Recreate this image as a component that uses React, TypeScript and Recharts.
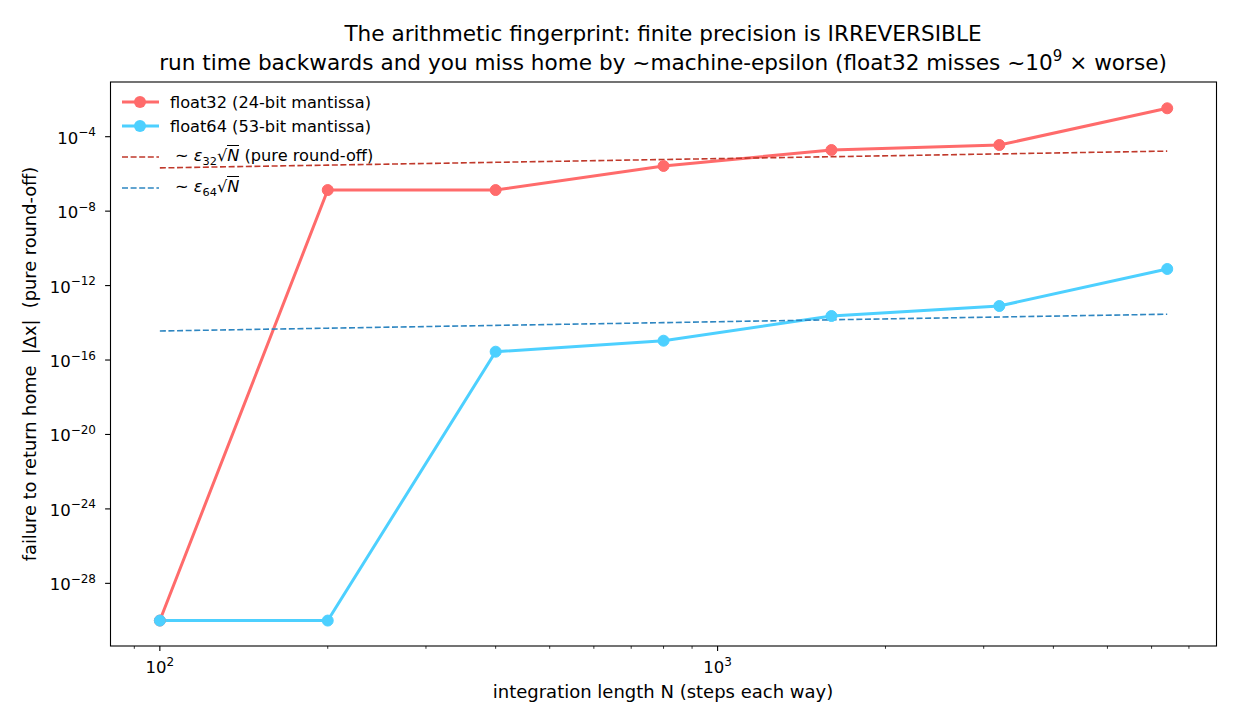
import { LineChart, Line, XAxis, YAxis } from 'recharts';

// integration lengths N (steps each way)
const nSteps = [100, 200, 400, 800, 1600, 3200, 6400];

// measured |dx| after running forwards then backwards (1e-30 = exact return, clipped floor)
const float32Err = [1e-30, 1.36e-7, 1.36e-7, 2.67e-6, 1.93e-5, 3.58e-5, 3.36e-3];
const float64Err = [1e-30, 1e-30, 2.8e-16, 1.09e-15, 2.32e-14, 8.0e-14, 7.8e-12];

// round-off reference lines ~ eps * sqrt(N)
const eps32Ref = [2.1e-6, 2.97e-6, 4.2e-6, 5.94e-6, 8.4e-6, 1.19e-5, 1.68e-5];
const eps64Ref = [3.63e-15, 5.13e-15, 7.25e-15, 1.02e-14, 1.45e-14, 2.05e-14, 2.9e-14];

const xMajorTicks = [100, 1000];
const xMinorTicks = [90, 200, 300, 400, 500, 600, 700, 800, 900, 2000, 3000, 4000, 5000, 6000, 7000];
const yTicks = [1e-28, 1e-24, 1e-20, 1e-16, 1e-12, 1e-8, 1e-4];

const rows = nSteps.map((n, i) => ({
  n,
  f32: float32Err[i],
  f64: float64Err[i],
  e32: eps32Ref[i],
  e64: eps64Ref[i],
}));

const FONT = 'DejaVu Sans';
const RED = '#ff6b6b';
const BLUE = '#4dd0ff';
const RED_DASH = '#c0392b';
const BLUE_DASH = '#2e86c1';

const XTick = (props: any) => {
  const { x, y, payload } = props;
  const v = payload.value;
  const major = xMajorTicks.includes(v);
  return (
    <g>
      <line x1={x} x2={x} y1={y} y2={y + (major ? 4.9 : 2.8)} stroke="#000" strokeWidth={major ? 1.1 : 0.8} />
      {major && (
        <text x={x} y={y + 27} textAnchor="middle" fontSize={16.5} fill="#000" fontFamily={FONT}>
          10
          <tspan dy={-7.5} fontSize={12}>
            {Math.round(Math.log10(v))}
          </tspan>
        </text>
      )}
    </g>
  );
};

const YTick = (props: any) => {
  const { x, y, payload } = props;
  const exp = Math.round(Math.log10(payload.value));
  return (
    <g>
      <line x1={x - 4.9} x2={x} y1={y} y2={y} stroke="#000" strokeWidth={1.1} />
      <text x={x - 14} y={y + 7} textAnchor="end" fontSize={16.5} fill="#000" fontFamily={FONT}>
        10
        <tspan dy={-7.5} fontSize={12}>
          {'\u2212' + Math.abs(exp)}
        </tspan>
      </text>
    </g>
  );
};

const SqrtN = () => (
  <span>
    <span>{'\u221A'}</span>
    <span style={{ fontStyle: 'italic', borderTop: '1.2px solid #000', lineHeight: 1 }}>N</span>
  </span>
);

const legendRows = [
  { cy: 102, color: RED, marker: true, dashed: false, label: <span>float32 (24-bit mantissa)</span> },
  { cy: 126, color: BLUE, marker: true, dashed: false, label: <span>float64 (53-bit mantissa)</span> },
  {
    cy: 157,
    color: RED_DASH,
    marker: false,
    dashed: true,
    label: (
      <span style={{ marginLeft: 5 }}>
        {'\u223C'} <i>ε</i>
        <sub style={{ fontSize: '0.7em' }}>32</sub>
        <SqrtN /> (pure round-off)
      </span>
    ),
  },
  {
    cy: 188,
    color: BLUE_DASH,
    marker: false,
    dashed: true,
    label: (
      <span style={{ marginLeft: 5 }}>
        {'\u223C'} <i>ε</i>
        <sub style={{ fontSize: '0.7em' }}>64</sub>
        <SqrtN />
      </span>
    ),
  },
];

export default function App() {
  return (
    <div style={{ position: 'absolute', left: 0, top: 0, width: 1235, height: 728, background: '#fff' }}>
      <LineChart width={1235} height={728} data={rows} margin={{ top: 82, right: 18, bottom: 22, left: 10 }}>
        <XAxis
          dataKey="n"
          type="number"
          scale="log"
          domain={[81.4, 7860]}
          allowDataOverflow
          ticks={[...xMajorTicks, ...xMinorTicks]}
          interval={0}
          tick={<XTick />}
          tickLine={false}
          axisLine={false}
          tickSize={0}
          tickMargin={0}
          height={60}
        />
        <YAxis
          type="number"
          scale="log"
          domain={[4.3e-32, 0.0869]}
          allowDataOverflow
          ticks={yTicks}
          interval={0}
          tick={<YTick />}
          tickLine={false}
          axisLine={false}
          tickSize={0}
          tickMargin={0}
          width={100}
        />
        <Line
          dataKey="f32"
          stroke={RED}
          strokeWidth={3}
          dot={{ r: 5.5, fill: RED, stroke: RED, strokeWidth: 1 }}
          activeDot={false}
          isAnimationActive={false}
        />
        <Line
          dataKey="f64"
          stroke={BLUE}
          strokeWidth={3}
          dot={{ r: 5.5, fill: BLUE, stroke: BLUE, strokeWidth: 1 }}
          activeDot={false}
          isAnimationActive={false}
        />
        <Line dataKey="e32" stroke={RED_DASH} strokeWidth={1.6} strokeDasharray="6 2.6" dot={false} activeDot={false} isAnimationActive={false} />
        <Line dataKey="e64" stroke={BLUE_DASH} strokeWidth={1.6} strokeDasharray="6 2.6" dot={false} activeDot={false} isAnimationActive={false} />
      </LineChart>

      <svg width={1235} height={728} style={{ position: 'absolute', left: 0, top: 0, pointerEvents: 'none' }}>
        <rect x={110.5} y={82} width={1106} height={564} fill="none" stroke="#000" strokeWidth={1.1} />
        <text x={663} y={40.7} textAnchor="middle" fontSize={21.6} fontFamily={FONT} fill="#000">
          The arithmetic fingerprint: finite precision is IRREVERSIBLE
        </text>
        <text x={663} y={69.5} textAnchor="middle" fontSize={21.6} fontFamily={FONT} fill="#000">
          run time backwards and you miss home by ~machine-epsilon (float32 misses ~10
          <tspan dy={-9} fontSize={15}>9</tspan>
          <tspan dy={9}> × worse)</tspan>
        </text>
        <text x={663} y={698} textAnchor="middle" fontSize={18} fontFamily={FONT} fill="#000">
          integration length N (steps each way)
        </text>
        <text
          transform="translate(36 364) rotate(-90)"
          textAnchor="middle"
          fontSize={17.8}
          fontFamily={FONT}
          fill="#000"
          style={{ whiteSpace: 'pre' }}
        >
          {'failure to return home  |Δx|  (pure round-off)'}
        </text>
      </svg>

      <div style={{ position: 'absolute', left: 0, top: 0, fontFamily: FONT, fontSize: 16.2, color: '#000' }}>
        {legendRows.map((r, i) => (
          <div key={i} style={{ position: 'absolute', top: r.cy - 14, left: 121, height: 28, display: 'flex', alignItems: 'center', whiteSpace: 'nowrap' }}>
            <svg width={49} height={28} style={{ flex: 'none' }}>
              <line
                x1={1}
                x2={38}
                y1={14}
                y2={14}
                stroke={r.color}
                strokeWidth={r.dashed ? 1.6 : 3}
                strokeDasharray={r.dashed ? '6 2.6' : undefined}
              />
              {r.marker && <circle cx={19} cy={14} r={6} fill={r.color} />}
            </svg>
            {r.label}
          </div>
        ))}
      </div>
    </div>
  );
}
